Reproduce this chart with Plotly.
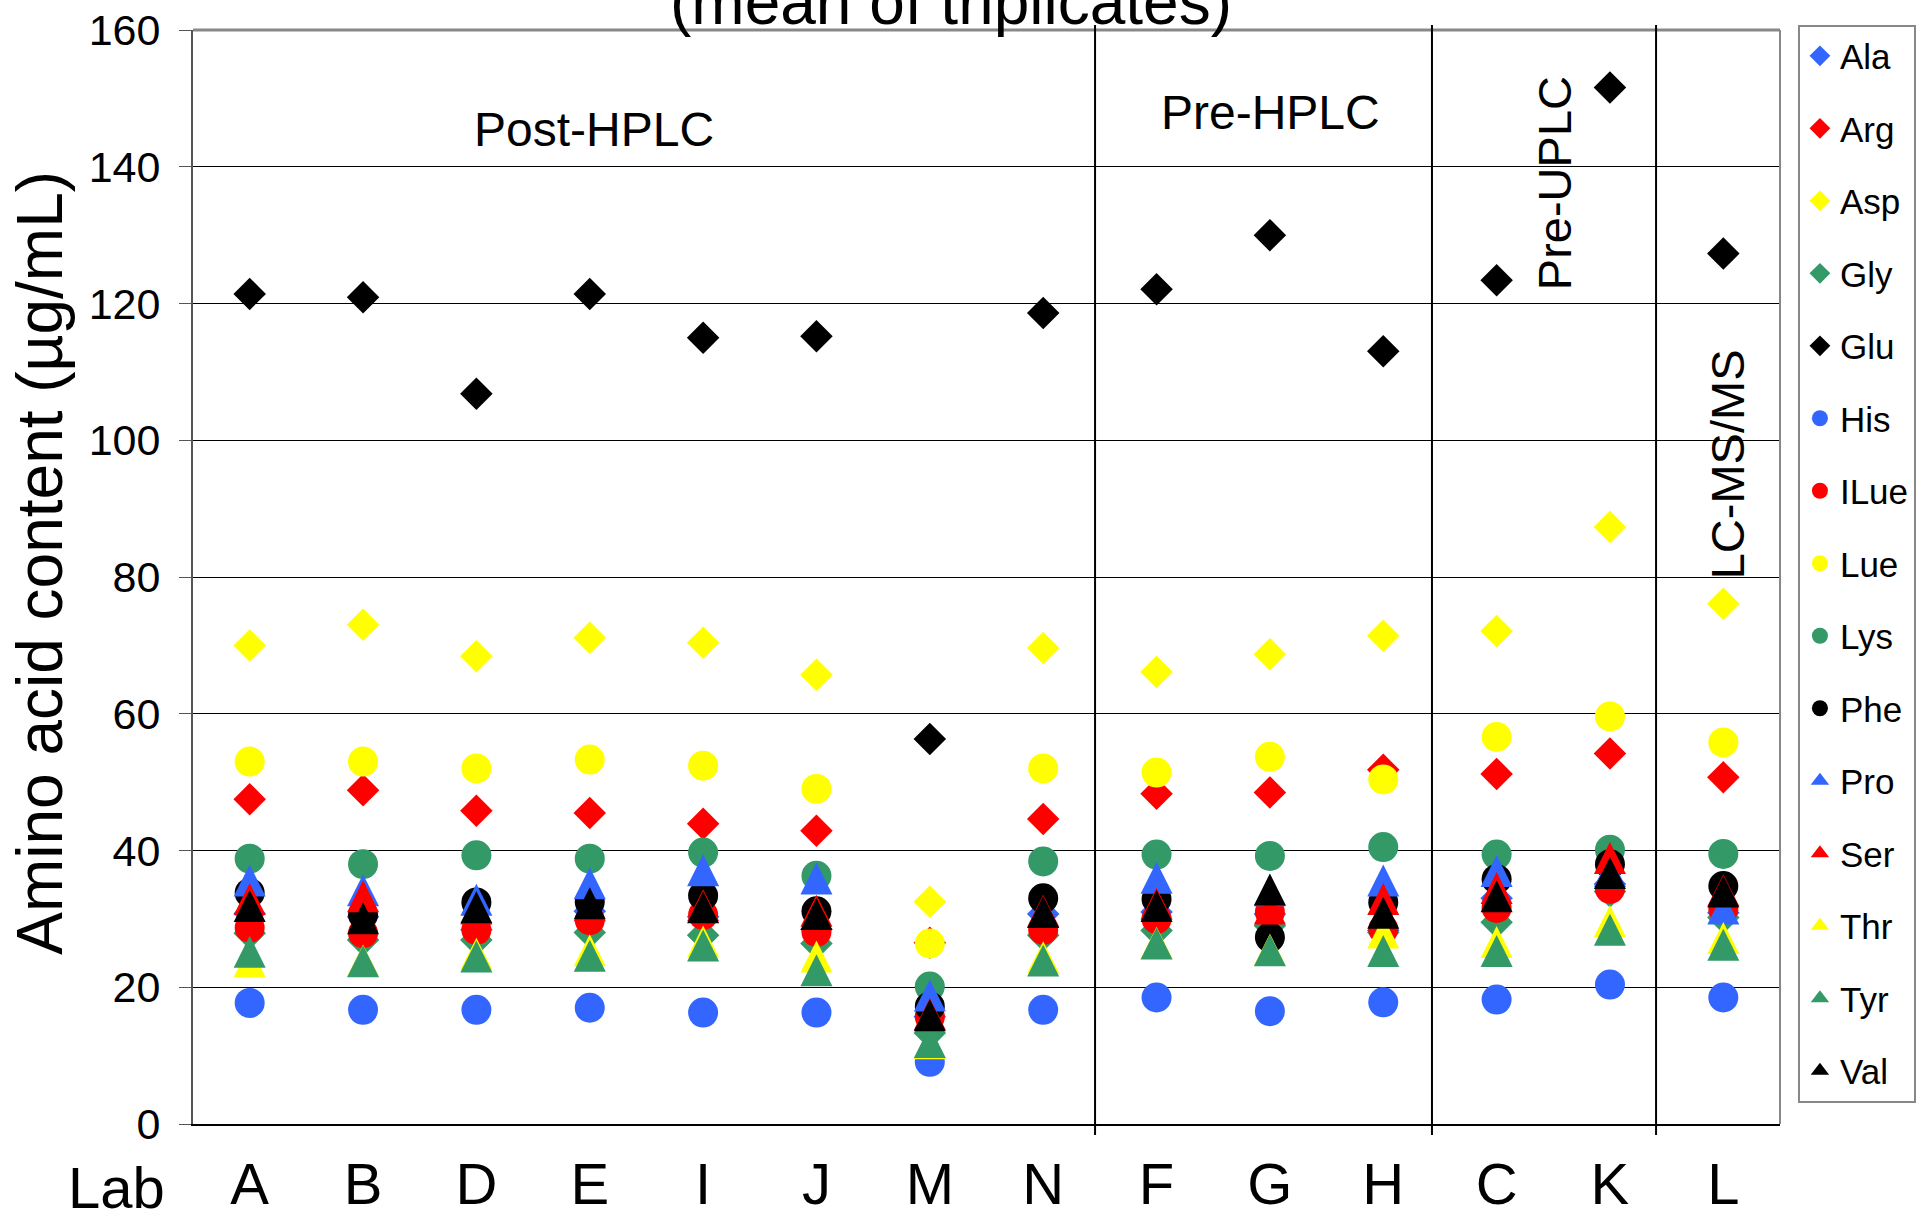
import plotly.graph_objects as go

labs = ["A", "B", "D", "E", "I", "J", "M", "N", "F", "G", "H", "C", "K", "L"]

Ala  = [30.8, 30.3, 28.4, 31.1, 30.3, 28.5, 15.7, 30.7, 31.0, 30.7, 28.3, 33.0, 35.1, 30.9]
Arg  = [47.5, 48.8, 45.8, 45.5, 43.9, 42.9, 26.5, 44.6, 48.3, 48.5, 51.8, 51.2, 54.2, 50.7]
Asp  = [70.0, 73.0, 68.4, 71.1, 70.4, 65.7, 32.5, 69.6, 66.1, 68.7, 71.4, 72.1, 87.3, 76.1]
Gly  = [27.9, 26.9, 26.9, 28.0, 27.6, 26.4, 13.3, 27.6, 28.3, 29.0, 28.0, 29.5, 34.0, 30.2]
Glu  = [121.4, 120.9, 106.8, 121.4, 115.0, 115.2, 56.3, 118.6, 122.1, 130.0, 113.0, 123.4, 151.6, 127.3]
His  = [17.7, 16.7, 16.7, 17.0, 16.3, 16.3, 9.1, 16.7, 18.5, 16.5, 17.8, 18.2, 20.4, 18.5]
ILue = [28.7, 27.9, 28.4, 29.8, 30.6, 28.1, 15.7, 28.4, 30.0, 31.0, 28.5, 31.6, 34.4, 31.4]
Lue  = [53.0, 53.0, 52.0, 53.3, 52.4, 49.0, 26.4, 52.0, 51.4, 53.7, 50.4, 56.6, 59.6, 55.8]
Lys  = [38.8, 38.0, 39.3, 38.8, 39.7, 36.3, 20.1, 38.4, 39.4, 39.2, 40.5, 39.4, 40.1, 39.5]
Phe  = [33.8, 30.6, 32.4, 32.5, 33.4, 31.1, 17.2, 33.0, 32.9, 27.3, 32.4, 35.8, 38.0, 34.8]
Pro  = [35.6, 34.2, 32.8, 35.2, 37.1, 35.9, 18.8, 31.0, 36.0, 34.2, 35.6, 37.0, 37.0, 31.5]
Ser  = [32.9, 33.3, 31.5, 32.0, 32.0, 31.2, 16.1, 31.2, 32.2, 31.5, 32.9, 34.5, 38.9, 34.2]
Thr  = [23.8, 23.9, 24.9, 25.4, 26.7, 24.5, 11.8, 24.4, 26.5, 25.5, 28.0, 26.6, 29.7, 27.2]
Tyr  = [25.2, 23.8, 24.5, 24.6, 26.1, 22.5, 12.0, 23.9, 26.4, 25.4, 25.3, 25.3, 28.4, 26.2]
Val  = [31.9, 30.1, 31.7, 32.3, 31.7, 30.7, 15.9, 31.0, 31.9, 34.3, 30.9, 33.3, 36.7, 34.0]

series = [
    ("Ala", Ala, "diamond", "#3366FF"),
    ("Arg", Arg, "diamond", "#FF0000"),
    ("Asp", Asp, "diamond", "#FFFF00"),
    ("Gly", Gly, "diamond", "#339966"),
    ("Glu", Glu, "diamond", "#000000"),
    ("His", His, "circle", "#3366FF"),
    ("ILue", ILue, "circle", "#FF0000"),
    ("Lue", Lue, "circle", "#FFFF00"),
    ("Lys", Lys, "circle", "#339966"),
    ("Phe", Phe, "circle", "#000000"),
    ("Pro", Pro, "triangle", "#3366FF"),
    ("Ser", Ser, "triangle", "#FF0000"),
    ("Thr", Thr, "triangle", "#FFFF00"),
    ("Tyr", Tyr, "triangle", "#339966"),
    ("Val", Val, "triangle", "#000000"),
]

FONT = "Liberation Sans, Arial, sans-serif"

fig = go.Figure()
for name, vals, sym, col in series:
    if sym == "diamond":
        marker = dict(symbol="diamond", color=col, size=25, line=dict(width=0))
        fig.add_trace(go.Scatter(x=labs, y=vals, mode="markers", name=name, marker=marker,
                                 legendgroup=name, cliponaxis=False))
    elif sym == "circle":
        marker = dict(symbol="circle", color=col, size=30, line=dict(width=0))
        fig.add_trace(go.Scatter(x=labs, y=vals, mode="markers", name=name, marker=marker,
                                 legendgroup=name, cliponaxis=False))
    else:
        # isosceles triangle (width == height), centred on the value
        marker = dict(symbol="arrow-down", angle=180, standoff=16, color=col, size=32,
                      line=dict(width=0))
        fig.add_trace(go.Scatter(x=labs, y=vals, mode="markers", name=name, marker=marker,
                                 legendgroup=name, showlegend=False, cliponaxis=False))
        # legend entry with a centred triangle symbol
        fig.add_trace(go.Scatter(x=[None], y=[None], mode="markers", name=name,
                                 marker=dict(symbol="triangle-up", color=col, size=20, line=dict(width=0)),
                                 legendgroup=name, showlegend=True))

fig.update_layout(
    width=1916, height=1223,
    margin=dict(l=193, r=136, t=30, b=99, autoexpand=False),
    paper_bgcolor="white", plot_bgcolor="white",
    font=dict(family=FONT, color="black"),
    showlegend=True,
    legend=dict(
        x=1.0113, y=1.005, xanchor="left", yanchor="top",
        bordercolor="#888888", borderwidth=2, bgcolor="white",
        font=dict(size=35, family=FONT), tracegroupgap=24,
        itemsizing="trace", maxheight=1.0,
    ),
    xaxis=dict(
        type="category", range=[-0.5, 13.5], showgrid=False, automargin=False,
        showline=True, linecolor="black", linewidth=2,
        ticks="", tickfont=dict(size=58, family=FONT),
        ticklabelstandoff=8,
    ),
    xaxis2=dict(
        overlaying="x", side="bottom", range=[-0.5, 13.5], automargin=False,
        tickmode="array", tickvals=[-0.5, 1.5, 3.5, 5.5, 7.5, 9.5, 11.5, 13.5],
        ticks="outside", ticklen=12, tickcolor="black", tickwidth=1,
        showticklabels=False, showgrid=False, showline=False, zeroline=False,
    ),
    yaxis=dict(
        range=[0, 160], dtick=20, showgrid=True, gridcolor="black", gridwidth=1,
        zeroline=False, showline=True, linecolor="#555555", linewidth=2,
        ticks="outside", ticklen=12, tickcolor="#555555", automargin=False,
        tickfont=dict(size=43, family=FONT), ticklabelstandoff=10,
    ),
)

shapes = []
# plot-area border top and right (gray)
shapes.append(dict(type="line", xref="paper", yref="paper", x0=0, x1=1, y0=1, y1=1,
                   line=dict(color="#888888", width=3), layer="above"))
shapes.append(dict(type="line", xref="paper", yref="paper", x0=1, x1=1, y0=0, y1=1,
                   line=dict(color="#888888", width=2), layer="above"))
for xp in [0.5684, 0.7807, 0.9219]:
    shapes.append(dict(type="line", xref="paper", yref="paper", x0=xp, x1=xp, y0=-0.01, y1=1.0046,
                       line=dict(color="black", width=2), layer="above"))
fig.update_layout(shapes=shapes)

ann = [
    dict(text="(mean of triplicates)", xref="paper", yref="paper", x=0.4776, y=0.991,
         xanchor="center", yanchor="bottom", showarrow=False, font=dict(size=64, family=FONT)),
    dict(text="Amino acid content (µg/mL)", xref="paper", yref="paper", x=-0.0964, y=0.513,
         textangle=-90, xanchor="center", yanchor="middle", showarrow=False,
         font=dict(size=64, family=FONT)),
    dict(text="Post-HPLC", xref="paper", yref="paper", x=0.2527, y=0.9086,
         xanchor="center", yanchor="middle", showarrow=False, font=dict(size=48, family=FONT)),
    dict(text="Pre-HPLC", xref="paper", yref="paper", x=0.679, y=0.925,
         xanchor="center", yanchor="middle", showarrow=False, font=dict(size=48, family=FONT)),
    dict(text="Pre-UPLC", xref="paper", yref="paper", x=0.8576, y=0.860, textangle=-90,
         xanchor="center", yanchor="middle", showarrow=False, font=dict(size=47, family=FONT)),
    dict(text="LC-MS/MS", xref="paper", yref="paper", x=0.9666, y=0.603, textangle=-90,
         xanchor="center", yanchor="middle", showarrow=False, font=dict(size=47, family=FONT)),
    dict(text="Lab", xref="paper", yref="paper", x=-0.0485, y=-0.058,
         xanchor="center", yanchor="middle", showarrow=False, font=dict(size=58, family=FONT)),
]
fig.update_layout(annotations=ann)

fig.write_html("out.html", config={"displayModeBar": False},
               post_script="document.body.style.margin='0';document.body.style.padding='0';")
